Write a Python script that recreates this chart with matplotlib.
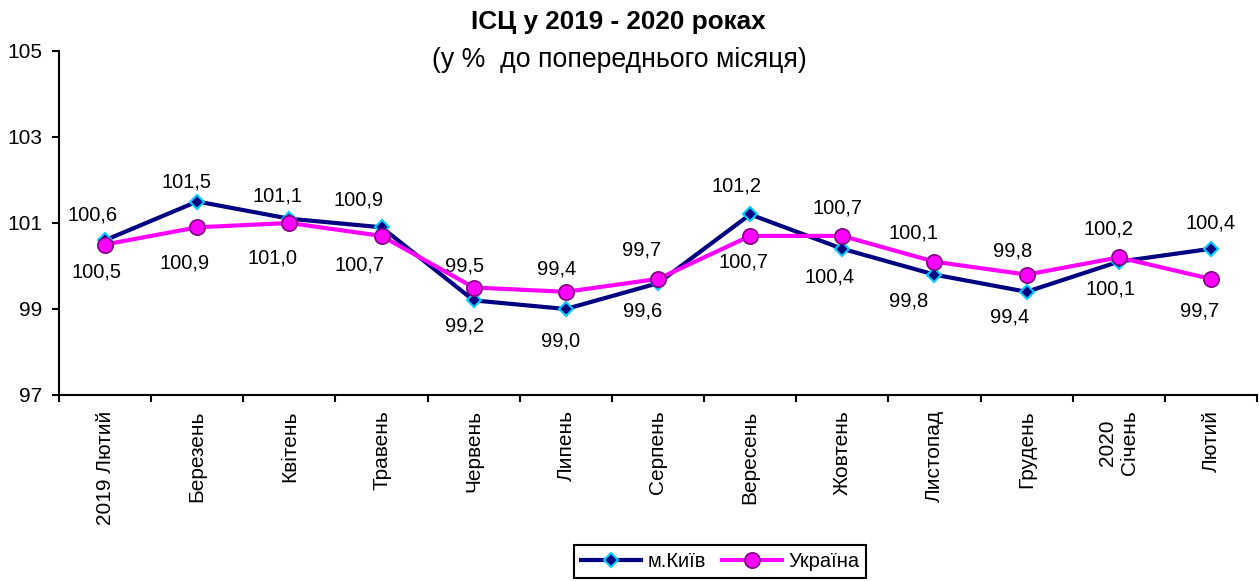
import matplotlib.pyplot as plt

plt.rcParams['font.family'] = ['Liberation Sans', 'DejaVu Sans']

months = ['2019 Лютий', 'Березень', 'Квітень', 'Травень', 'Червень', 'Липень',
          'Серпень', 'Вересень', 'Жовтень', 'Листопад', 'Грудень', '2020\nСічень', 'Лютий']
kyiv = [100.6, 101.5, 101.1, 100.9, 99.2, 99.0, 99.6, 101.2, 100.4, 99.8, 99.4, 100.1, 100.4]
ukraine = [100.5, 100.9, 101.0, 100.7, 99.5, 99.4, 99.7, 100.7, 100.7, 100.1, 99.8, 100.2, 99.7]

# data label offsets in pixels (dx, dy), up is positive
kyiv_off = [(-13, 25), (-11, 20), (-12, 23), (-23, 27), (-9, -26), (-5, -32), (-15, -28),
            (-14, 28), (-13, -28), (-26, -26), (-17, -25), (-8, -27), (0, 26)]
ukraine_off = [(-9, -27), (-13, -36), (-17, -35), (-22, -29), (-9, 22), (-9, 23), (-16, 29),
               (-7, -26), (-5, 28), (-21, 29), (-14, 24), (-10, 28), (-11, -32)]

fig = plt.figure(figsize=(12.59, 5.81), dpi=100)
ax = fig.add_axes([59/1259, 1 - 395/581, (1257-59)/1259, (395-51)/581])

x = list(range(len(months)))
ax.plot(x, kyiv, color='#000080', lw=3, marker='D', ms=7, mfc='#000080',
        mec='#00CCFF', mew=1.5, label='м.Київ', zorder=3)
ax.plot(x, ukraine, color='#FF00FF', lw=3, marker='o', ms=11, mfc='#FF00FF',
        mec='#800080', mew=1.2, label='Україна', zorder=4)

def fmt(v):
    return f'{v:.1f}'.replace('.', ',')

for i in x:
    for vals, off in ((kyiv, kyiv_off), (ukraine, ukraine_off)):
        ax.annotate(fmt(vals[i]), (i, vals[i]), xytext=off[i],
                    textcoords='offset pixels', ha='center', va='center', fontsize=14.5)

ax.set_xlim(-0.5, 12.5)
ax.set_ylim(97, 105)
ax.set_yticks([97, 99, 101, 103, 105])
ax.tick_params(axis='y', labelsize=15, direction='out', length=5, width=1.5, pad=7)
ax.set_xticks(x)
ax.set_xticklabels(months, rotation=90, fontsize=15, va='top', ha='center', multialignment='center')
ax.set_xticks([i - 0.5 for i in range(len(months) + 1)], minor=True)
ax.tick_params(axis='x', which='major', length=0, pad=11)
ax.tick_params(axis='x', which='minor', length=5, width=1.5, direction='out')

for s in ('top', 'right'):
    ax.spines[s].set_visible(False)
for s in ('left', 'bottom'):
    ax.spines[s].set_linewidth(1.5)

fig.text(0.491, 0.962, 'ІСЦ у 2019 - 2020 роках', ha='center', va='center',
         fontsize=18.8, fontweight='bold')
fig.text(0.492, 0.896, '(у %  до попереднього місяця)', ha='center', va='center', fontsize=19.2)

leg = fig.legend(loc='lower center', bbox_to_anchor=(0.572, 0.005), ncol=2, fontsize=14.5,
                 fancybox=False, framealpha=1, edgecolor='black', borderpad=0.35,
                 borderaxespad=0, handlelength=3, columnspacing=0.8, handletextpad=0.3)
leg.get_frame().set_linewidth(1.5)

fig.savefig('out.png', dpi=100)
